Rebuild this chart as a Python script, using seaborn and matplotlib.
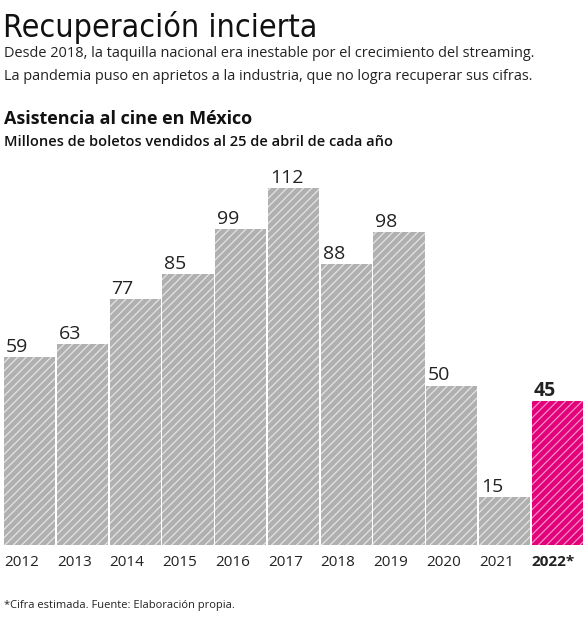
import matplotlib
matplotlib.use('Agg')
import matplotlib.pyplot as plt
import seaborn as sns
import pandas as pd
import numpy as np

years = ['2012', '2013', '2014', '2015', '2016', '2017', '2018', '2019', '2020', '2021', '2022*']
values = [59, 63, 77, 85, 99, 112, 88, 98, 50, 15, 45]
highlight = [False] * 10 + [True]

GRAY = '#b0b0b0'
GRAY_STRIPE = '#e4e4e4'
PINK = '#e3007b'
PINK_STRIPE = '#f590c4'

sns.set_theme(style='white')
plt.rcParams['font.family'] = ['Open Sans', 'DejaVu Sans']
plt.rcParams['hatch.linewidth'] = 0.9

W, H = 586, 620
fig = plt.figure(figsize=(W / 100, H / 100), dpi=100)
fig.patch.set_facecolor('white')

ax = fig.add_axes([0, 75 / H, 1, 385 / H])
df = pd.DataFrame({'year': years, 'value': values})
palette = [PINK if h else GRAY for h in highlight]
BW = 0.97
sns.barplot(data=df, x='year', y='value', hue='year', palette=palette, legend=False,
            width=BW, saturation=1, ax=ax, linewidth=0)
for p, h in zip(ax.patches, highlight):
    p.set_edgecolor(PINK_STRIPE if h else GRAY_STRIPE)
    p.set_linewidth(0)
    p.set_hatch('////')

ax.set_xlim(-0.561, 10.542)
ax.set_ylim(0, 385 / 3.19)
for s in ax.spines.values():
    s.set_visible(False)
ax.set_yticks([])
ax.set_xlabel('')
ax.set_ylabel('')
ax.set_xticks(np.arange(len(years)) - BW / 2)
ax.set_xticklabels(years, ha='left', fontsize=11, color='#222222')
ax.tick_params(axis='x', length=0, pad=7)
for lab, h in zip(ax.get_xticklabels(), highlight):
    if h:
        lab.set_fontweight('bold')

for i, (v, h) in enumerate(zip(values, highlight)):
    ax.annotate(str(v), xy=(i - BW / 2, v), xytext=(2, 5), textcoords='offset pixels',
                ha='left', va='baseline', fontsize=14,
                fontweight='bold' if h else 'normal', color='#222222')

def fy(px):
    return 1 - px / H

fig.text(3 / W, fy(37), 'Recuperación incierta', family='DejaVu Sans', fontstretch='condensed',
         fontsize=23, va='baseline', ha='left', color='#111111')
fig.text(4 / W, fy(57), 'Desde 2018, la taquilla nacional era inestable por el crecimiento del streaming.',
         fontsize=10.45, va='baseline', ha='left', color='#222222')
fig.text(4 / W, fy(80), 'La pandemia puso en aprietos a la industria, que no logra recuperar sus cifras.',
         fontsize=10.45, va='baseline', ha='left', color='#222222')
fig.text(4 / W, fy(124), 'Asistencia al cine en México', fontsize=13, fontweight='bold',
         va='baseline', ha='left', color='#111111')
fig.text(4 / W, fy(146), 'Millones de boletos vendidos al 25 de abril de cada año', fontsize=10.5,
         fontweight='semibold', va='baseline', ha='left', color='#111111')
fig.text(4 / W, fy(608), '*Cifra estimada. Fuente: Elaboración propia.', fontsize=8,
         va='baseline', ha='left', color='#222222')

fig.savefig('out.png', dpi=100)
